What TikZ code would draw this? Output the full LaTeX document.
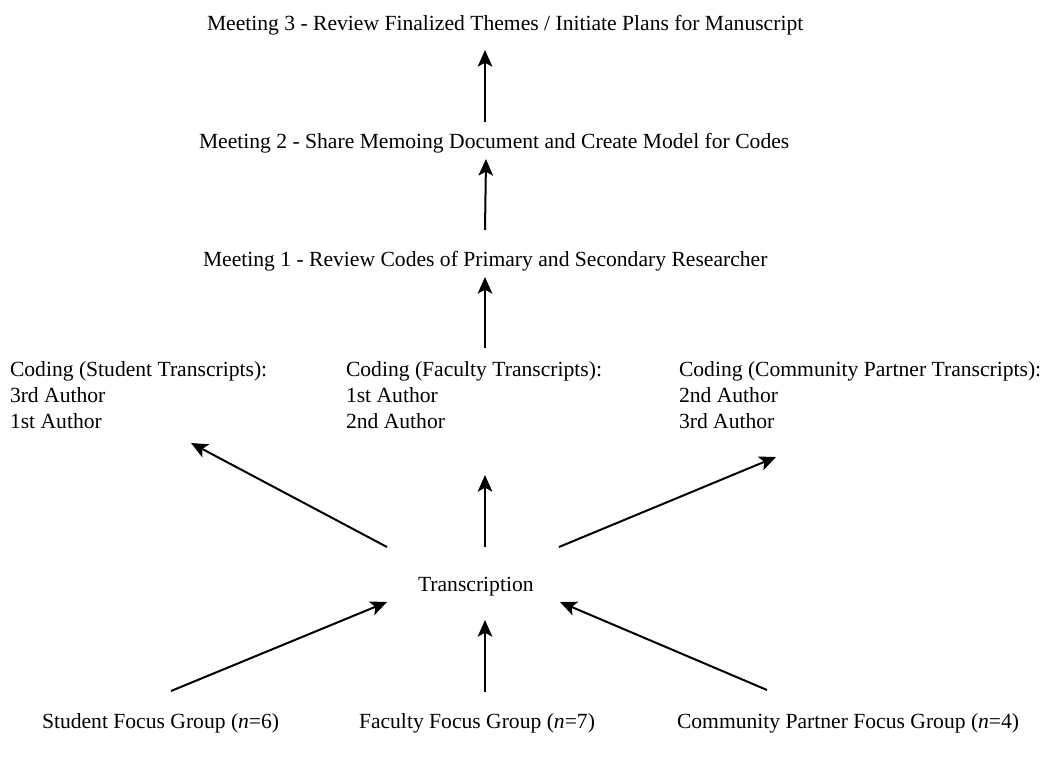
\documentclass[tikz,border=0pt]{standalone}
\usepackage{fontspec}
\setmainfont{Liberation Serif}
\usetikzlibrary{arrows.meta}
\begin{document}
\begin{tikzpicture}[x=0.75pt,y=-0.75pt,
  lbl/.style={inner sep=0pt,outer sep=0pt,anchor=base west,font=\fontsize{16.2}{19.5}\selectfont},
  arr/.style={line width=1.5pt,-{Stealth[length=12.5pt,width=11pt,inset=3pt]}}]
\useasboundingbox (0,0) rectangle (1045,760);
% text nodes
\node[lbl] (m3) at (207,31) {Meeting 3 - Review Finalized Themes / Initiate Plans for Manuscript};
\node[lbl] (m2) at (199,148) {Meeting 2 - Share Memoing Document and Create Model for Codes};
\node[lbl] (m1) at (203,266) {Meeting 1 - Review Codes of Primary and Secondary Researcher};
\node[lbl] (cs) at (10,376) {\begin{tabular}[t]{@{}l@{}}Coding (Student Transcripts):\\3rd Author\\1st Author\end{tabular}};
\node[lbl] (cf) at (346,376) {\begin{tabular}[t]{@{}l@{}}Coding (Faculty Transcripts):\\1st Author\\2nd Author\end{tabular}};
\node[lbl] (cc) at (679,376) {\begin{tabular}[t]{@{}l@{}}Coding (Community Partner Transcripts):\\2nd Author\\3rd Author\end{tabular}};
\node[lbl] (tr) at (418,591) {Transcription};
\node[lbl] (fs) at (42,728) {Student Focus Group (\textit{n}=6)};
\node[lbl] (ff) at (359,728) {Faculty Focus Group (\textit{n}=7)};
\node[lbl] (fc) at (677,728) {Community Partner Focus Group (\textit{n}=4)};
% connector end points
\coordinate (m3in) at (485,50);
\coordinate (m2out) at (485,122);
\coordinate (m2in) at (486,159);
\coordinate (m1out) at (485,230);
\coordinate (m1in) at (485,277);
\coordinate (cfout) at (485,348);
\coordinate (csin) at (191,443);
\coordinate (cfin) at (485,475);
\coordinate (ccin) at (776,457);
\coordinate (trL) at (387,547);
\coordinate (trM) at (485,547);
\coordinate (trR) at (559,547);
\coordinate (trinL) at (387,602);
\coordinate (trinM) at (485,620);
\coordinate (trinR) at (560,602);
\coordinate (fsout) at (171,691);
\coordinate (ffout) at (485,692);
\coordinate (fcout) at (767,690);
% connectors
\draw[arr] (m2out) -- (m3in);
\draw[arr] (m1out) -- (m2in);
\draw[arr] (cfout) -- (m1in);
\draw[arr] (trL) -- (csin);
\draw[arr] (trM) -- (cfin);
\draw[arr] (trR) -- (ccin);
\draw[arr] (fsout) -- (trinL);
\draw[arr] (ffout) -- (trinM);
\draw[arr] (fcout) -- (trinR);
\end{tikzpicture}
\end{document}
